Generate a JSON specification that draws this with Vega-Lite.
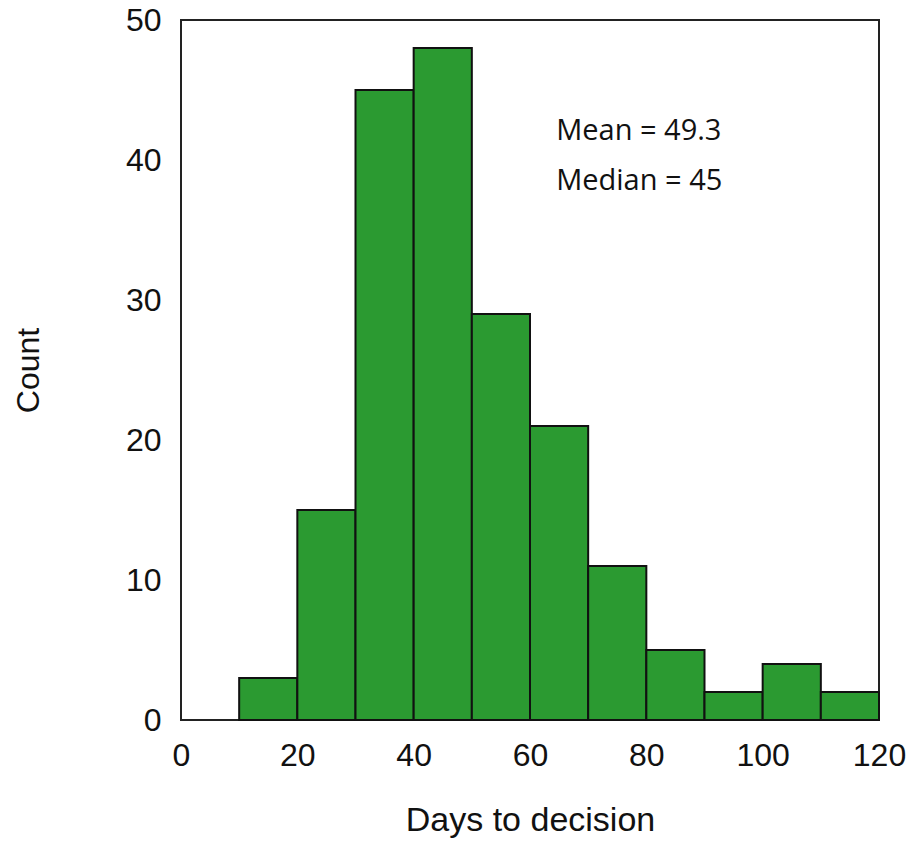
{
  "$schema": "https://vega.github.io/schema/vega-lite/v6.json",
  "width": 698,
  "height": 700,
  "autosize": {"type": "none"},
  "padding": {"left": 181, "top": 20, "right": 30, "bottom": 123},
  "background": "white",
  "config": {
    "view": {"stroke": "#222", "strokeWidth": 2},
    "axis": {"grid": false, "ticks": false, "domain": false, "labelFlush": false, "labelFont": "Liberation Sans", "titleFont": "Liberation Sans", "labelFontSize": 32, "labelColor": "#111", "titleColor": "#111", "titleFontWeight": "normal"}
  },
  "layer": [
    {
      "data": {"values": [
        {"bin_start": 10, "bin_end": 20, "count": 3},
        {"bin_start": 20, "bin_end": 30, "count": 15},
        {"bin_start": 30, "bin_end": 40, "count": 45},
        {"bin_start": 40, "bin_end": 50, "count": 48},
        {"bin_start": 50, "bin_end": 60, "count": 29},
        {"bin_start": 60, "bin_end": 70, "count": 21},
        {"bin_start": 70, "bin_end": 80, "count": 11},
        {"bin_start": 80, "bin_end": 90, "count": 5},
        {"bin_start": 90, "bin_end": 100, "count": 2},
        {"bin_start": 100, "bin_end": 110, "count": 4},
        {"bin_start": 110, "bin_end": 120, "count": 2}
      ]},
      "mark": {"type": "rect", "fill": "#2B9A31", "stroke": "#111", "strokeWidth": 2},
      "encoding": {
        "x": {"field": "bin_start", "type": "quantitative", "scale": {"domain": [0, 120], "nice": false}, "axis": {"values": [0, 20, 40, 60, 80, 100, 120], "title": "Days to decision", "titleFontSize": 34, "labelPadding": 20, "titlePadding": 32}},
        "x2": {"field": "bin_end"},
        "y": {"field": "count", "type": "quantitative", "scale": {"domain": [0, 50], "nice": false}, "axis": {"values": [0, 10, 20, 30, 40, 50], "title": "Count", "titleFontSize": 32, "labelPadding": 20, "titlePadding": 80}},
        "y2": {"datum": 0}
      }
    },
    {
      "data": {"values": [
        {"x": 64.5, "y": 42.1, "label": "Mean = 49.3"},
        {"x": 64.5, "y": 38.5, "label": "Median = 45"}
      ]},
      "mark": {"type": "text", "align": "left", "baseline": "middle", "font": "Open Sans", "fontSize": 29, "color": "#111"},
      "encoding": {
        "x": {"field": "x", "type": "quantitative"},
        "y": {"field": "y", "type": "quantitative"},
        "text": {"field": "label"}
      }
    }
  ]
}
